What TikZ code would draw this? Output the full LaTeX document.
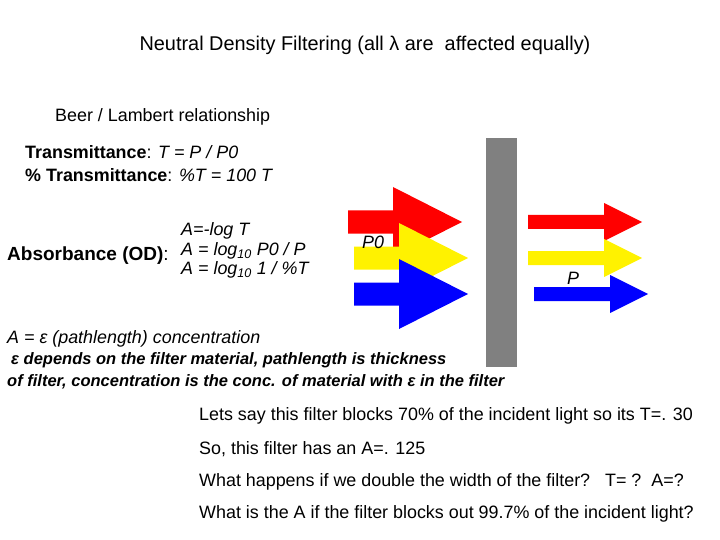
\documentclass[tikz,border=0pt]{standalone}
\usepackage{fontspec}
\setmainfont{Liberation Sans}
\begin{document}
\begin{tikzpicture}[x=1pt,y=-1pt,
  txt/.style={anchor=west,inner sep=0pt,font=\fontsize{17.9}{20}\selectfont},
  bi/.style={anchor=west,inner sep=0pt,font=\fontsize{16.5}{20}\selectfont}]
\useasboundingbox (0,0) rectangle (720,540);
\def\bigarrow#1#2#3#4{% x0, xh, tip, center
  \fill[#1] (#2,#4-11.5) -- (#3,#4-11.5) -- (#3,#4-35) -- ({#3+69},#4) -- (#3,#4+35) -- (#3,#4+11.5) -- (#2,#4+11.5) -- cycle;}
\def\smallarrow#1#2#3#4{%
  \fill[#1] (#2,#4-7) -- (#3,#4-7) -- (#3,#4-19) -- ({#3+38},#4) -- (#3,#4+19) -- (#3,#4+7) -- (#2,#4+7) -- cycle;}
\node[txt,anchor=center,font=\fontsize{19.9}{22}\selectfont] (title) at (365,45) {Neutral Density Filtering (all λ are\ \ affected equally)};
\node[txt] (beer) at (55,117) {Beer / Lambert relationship};
\node[txt] (t1) at (25,152) {\textbf{Transmittance}: \textit{T = P / P0}};
\node[txt] (t2) at (25,175) {\textbf{\%} \textbf{Transmittance}: \textit{\%T = 100 T}};
\node[txt,font=\fontsize{19}{22}\selectfont] (abs) at (7,256) {\textbf{Absorbance (OD)}:};
\node[txt] (a1) at (181,231) {\textit{A=-log T}};
\node[txt] (a2) at (181,251) {\textit{A = log\textsubscript{10} P0 / P}};
\node[txt] (a3) at (181,270) {\textit{A = log\textsubscript{10} 1 / \%T}};
\bigarrow{red}{348}{393}{222}
\bigarrow{yellow}{354}{399}{258}
\bigarrow{blue}{354}{399}{294}
\node[txt] (p0) at (362,242) {\textit{P0}};
\fill[gray] (486,138) rectangle (517,367);
\smallarrow{red}{528}{604}{222}
\smallarrow{yellow}{528}{604}{258}
\smallarrow{blue}{534}{610}{294}
\node[txt] (p) at (567,278) {\textit{P}};
\node[txt] (e1) at (7,339) {\textit{A = ε (pathlength) concentration}};
\node[bi] (e2) at (11,360) {\textit{\textbf{ε depends on the filter material, pathlength is thickness}}};
\node[bi] (e3) at (7,382) {\textit{\textbf{of filter, concentration is the conc. of material with ε in the filter}}};
\node[txt] (q1) at (199,416) {Lets say this filter blocks 70\% of the incident light so its T=. 30};
\node[txt] (q2) at (199,449) {So, this filter has an A=. 125};
\node[txt] (q3) at (199,482) {What happens if we double the width of the filter?\ \ \ T= ?\ \ A=?};
\node[txt] (q4) at (199,514) {What is the A if the filter blocks out 99.7\% of the incident light?};
\end{tikzpicture}
\end{document}
